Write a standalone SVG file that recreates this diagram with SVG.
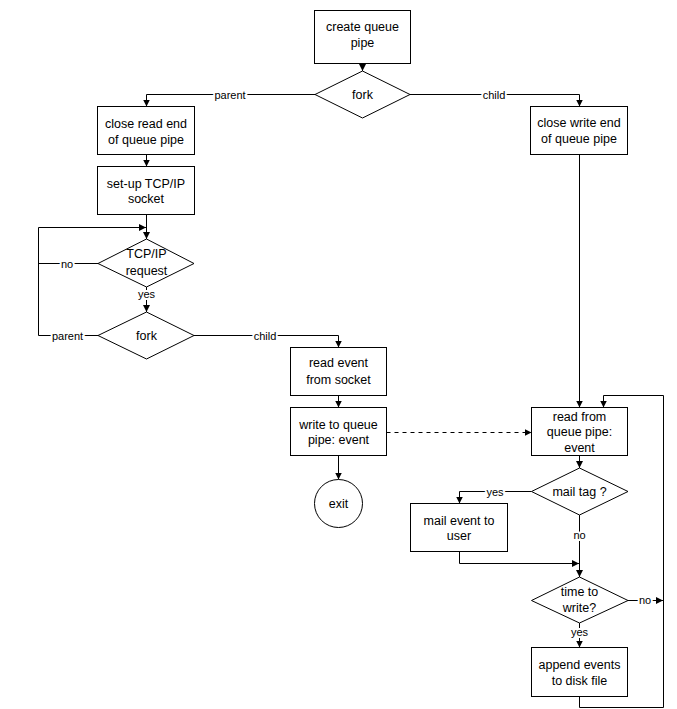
<svg xmlns="http://www.w3.org/2000/svg" width="677" height="709" viewBox="0 0 677 709">
<style>
.n{fill:#fff;stroke:#000;stroke-width:1}
.t{font-family:"Liberation Sans",Arial,sans-serif;font-size:12.5px;fill:#000;text-anchor:middle}
.c{fill:none;stroke:#000;stroke-width:1}
.d{stroke-dasharray:4,4}
.l{font-family:"Liberation Sans",Arial,sans-serif;font-size:11px;fill:#000;text-anchor:middle;stroke:#fff;stroke-width:4;paint-order:stroke;stroke-linejoin:round}
</style>
<defs>
<marker id="a" markerUnits="userSpaceOnUse" markerWidth="8" markerHeight="8" refX="7" refY="4" orient="auto">
<path d="M0,0.5 L7,4 L0,7.5 z" fill="#000"/>
</marker>
</defs>
<rect width="677" height="709" fill="#fff"/>
<g id="connectors">
<path class="c" d="M362.5,63.5 V71" marker-end="url(#a)"/>
<path class="c" d="M315,94.5 H146.5 V106.5" marker-end="url(#a)"/>
<path class="c" d="M410,94.5 H579.5 V106.5" marker-end="url(#a)"/>
<path class="c" d="M146.5,154.5 V166.5" marker-end="url(#a)"/>
<path class="c" d="M146.5,214.5 V239" marker-end="url(#a)"/>
<path class="c" d="M98,263.5 H38.5"/>
<path class="c" d="M98,335.5 H38.5 V227.5 H146" marker-end="url(#a)"/>
<path class="c" d="M146.5,287 V312" marker-end="url(#a)"/>
<path class="c" d="M194,335.5 H338.5 V347.5" marker-end="url(#a)"/>
<path class="c" d="M338.5,395.5 V407.5" marker-end="url(#a)"/>
<path class="c" d="M338.5,455.5 V479.5" marker-end="url(#a)"/>
<path class="c d" d="M386.5,432.5 H531.5" marker-end="url(#a)"/>
<path class="c" d="M579.5,154.5 V407.5" marker-end="url(#a)"/>
<path class="c" d="M579.5,455.5 V468" marker-end="url(#a)"/>
<path class="c" d="M531.5,491.5 H459.5 V503.5" marker-end="url(#a)"/>
<path class="c" d="M579.5,515 V577" marker-end="url(#a)"/>
<path class="c" d="M459.5,551.5 V563.5 H579" marker-end="url(#a)"/>
<path class="c" d="M579.5,623 V647.5" marker-end="url(#a)"/>
<path class="c" d="M628,600.5 H663" marker-end="url(#a)"/>
<path class="c" d="M579.5,696.5 V707.5 H663.5 V395.5 H603.5 V407.5" marker-end="url(#a)"/>
<text class="l" x="230" y="98.5">parent</text>
<text class="l" x="494" y="98.5">child</text>
<text class="l" x="67" y="267.5">no</text>
<text class="l" x="146.5" y="298">yes</text>
<text class="l" x="67.5" y="339.5">parent</text>
<text class="l" x="265" y="339.5">child</text>
<text class="l" x="495" y="495.5">yes</text>
<text class="l" x="579.5" y="539">no</text>
<text class="l" x="645" y="604">no</text>
<text class="l" x="579.5" y="635.5">yes</text>
</g>
<g id="create">
<rect class="n" x="314.5" y="10.5" width="96" height="53"/>
<text class="t" x="362.5" y="31">create queue</text>
<text class="t" x="362.5" y="47">pipe</text>
</g>
<g id="fork1">
<polygon class="n" points="362.5,71 410,94.5 362.5,118 315,94.5"/>
<text class="t" x="362.5" y="99">fork</text>
</g>
<g id="closeread">
<rect class="n" x="97.5" y="106.5" width="97" height="48"/>
<text class="t" x="146" y="128">close read end</text>
<text class="t" x="146" y="144">of queue pipe</text>
</g>
<g id="closewrite">
<rect class="n" x="530.5" y="106.5" width="97" height="48"/>
<text class="t" x="579" y="127">close write end</text>
<text class="t" x="579" y="143">of queue pipe</text>
</g>
<g id="setup">
<rect class="n" x="97.5" y="166.5" width="97" height="48"/>
<text class="t" x="146" y="188">set-up TCP/IP</text>
<text class="t" x="146" y="203">socket</text>
</g>
<g id="tcprequest">
<polygon class="n" points="146.5,239 194,263.5 146.5,287 98,263.5"/>
<text class="t" x="146.5" y="257.5">TCP/IP</text>
<text class="t" x="146.5" y="275">request</text>
</g>
<g id="fork2">
<polygon class="n" points="146.5,312 194,335.5 146.5,359 98,335.5"/>
<text class="t" x="146.5" y="340">fork</text>
</g>
<g id="readevent">
<rect class="n" x="290.5" y="347.5" width="96" height="48"/>
<text class="t" x="338.5" y="367">read event</text>
<text class="t" x="338.5" y="384">from socket</text>
</g>
<g id="writequeue">
<rect class="n" x="290.5" y="407.5" width="96" height="48"/>
<text class="t" x="338.5" y="428.5">write to queue</text>
<text class="t" x="338.5" y="444">pipe: event</text>
</g>
<g id="exit">
<circle class="n" cx="338.5" cy="503.5" r="24"/>
<text class="t" x="338.5" y="508">exit</text>
</g>
<g id="readfrom">
<rect class="n" x="531.5" y="407.5" width="96" height="48"/>
<text class="t" x="579.5" y="420.5">read from</text>
<text class="t" x="579.5" y="436">queue pipe:</text>
<text class="t" x="579.5" y="451.5">event</text>
</g>
<g id="mailtag">
<polygon class="n" points="579.5,468 628,491.5 579.5,515 531.5,491.5"/>
<text class="t" x="579.5" y="496">mail tag ?</text>
</g>
<g id="mailevent">
<rect class="n" x="410.5" y="503.5" width="97" height="48"/>
<text class="t" x="459" y="524.5">mail event to</text>
<text class="t" x="459" y="540">user</text>
</g>
<g id="timetowrite">
<polygon class="n" points="579.5,577 628,600.5 579.5,623 531.5,600.5"/>
<text class="t" x="579.5" y="595.5">time to</text>
<text class="t" x="579.5" y="612">write?</text>
</g>
<g id="append">
<rect class="n" x="531.5" y="647.5" width="96" height="49"/>
<text class="t" x="579.5" y="668.5">append events</text>
<text class="t" x="579.5" y="684.5">to disk file</text>
</g>
</svg>
